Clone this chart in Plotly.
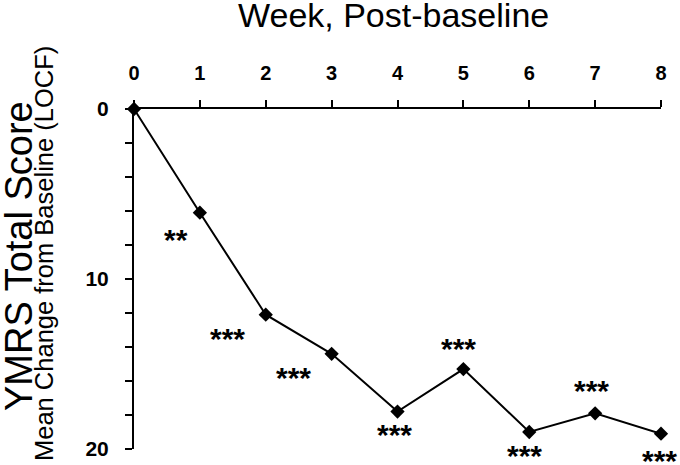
import plotly.graph_objects as go

weeks = [0, 1, 2, 3, 4, 5, 6, 7, 8]
mean_change = [0.0, 6.1, 12.1, 14.4, 17.8, 15.3, 19.0, 17.9, 19.1]
sig_labels = ["", "**", "***", "***", "***", "***", "***", "***", "***"]
# label offsets in pixels relative to each point (style)
label_dx = [0, -24, -38, -38, -3, -5, -5, -4, -2]
label_dy = [0, -24, -21, -21, -20, 24, -20, 26, -24]

x_ticks = [0, 1, 2, 3, 4, 5, 6, 7, 8]
y_ticks = [0, 10, 20]

FONT = "Arial, Liberation Sans, sans-serif"

fig = go.Figure()
fig.add_trace(go.Scatter(
    x=weeks, y=mean_change, mode="lines+markers",
    line=dict(color="black", width=2),
    marker=dict(symbol="diamond", size=11, color="black"),
    cliponaxis=False, showlegend=False,
))

annotations = []
for w, v, s, dx, dy in zip(weeks, mean_change, sig_labels, label_dx, label_dy):
    if not s:
        continue
    annotations.append(dict(
        x=w, y=v, xref="x", yref="y", text=s, showarrow=False,
        xshift=dx, yshift=dy - 3, font=dict(family=FONT, size=30, color="black", weight="bold"),
        xanchor="center", yanchor="middle",
    ))

annotations.append(dict(
    x=393, y=15, text="Week, Post-baseline",
    font=dict(family=FONT, size=34, color="black"),
))
annotations.append(dict(
    x=19, y=256, text="YMRS Total Score", textangle=-90,
    font=dict(family=FONT, size=38, color="black"),
))
annotations.append(dict(
    x=44, y=254, text="Mean Change from Baseline (LOCF)", textangle=-90,
    font=dict(family=FONT, size=25.5, color="black"),
))

# convert pixel positions of title annotations into paper coordinates
W, H = 680, 465
L, R, T, B = 134, 19, 109, 16
pw, ph = W - L - R, H - T - B
for a in annotations[-3:]:
    a["xref"] = "paper"; a["yref"] = "paper"; a["showarrow"] = False
    a["x"] = (a["x"] - L) / pw
    a["y"] = (H - B - a["y"]) / ph
    a["xanchor"] = "center"; a["yanchor"] = "middle"

fig.update_layout(
    width=W, height=H,
    margin=dict(l=L, r=R, t=T, b=B, autoexpand=False),
    paper_bgcolor="white", plot_bgcolor="white",
    annotations=annotations,
    xaxis=dict(
        side="top", range=[0, 8], tickvals=x_ticks, automargin=False,
        ticktext=[str(t) for t in x_ticks],
        ticks="outside", ticklen=7, tickwidth=1.5, tickcolor="black",
        ticklabelstandoff=12,
        showline=True, linecolor="black", linewidth=2,
        showgrid=False, zeroline=False,
        tickfont=dict(family=FONT, size=20, color="black", weight="bold"),
    ),
    yaxis=dict(
        range=[20, 0], tickvals=y_ticks, ticktext=[str(t) for t in y_ticks],
        automargin=False,
        ticks="outside", ticklen=7, tickwidth=1.5, tickcolor="black",
        ticklabelstandoff=12,
        minor=dict(dtick=2, ticks="outside", ticklen=7, tickwidth=1.5, tickcolor="black", showgrid=False),
        showline=True, linecolor="black", linewidth=2,
        showgrid=False, zeroline=False,
        tickfont=dict(family=FONT, size=21, color="black", weight="bold"),
    ),
)

fig.write_html(
    "out.html",
    config={"displayModeBar": False},
    post_script="document.body.style.margin='0px';document.body.style.overflow='hidden';",
)
